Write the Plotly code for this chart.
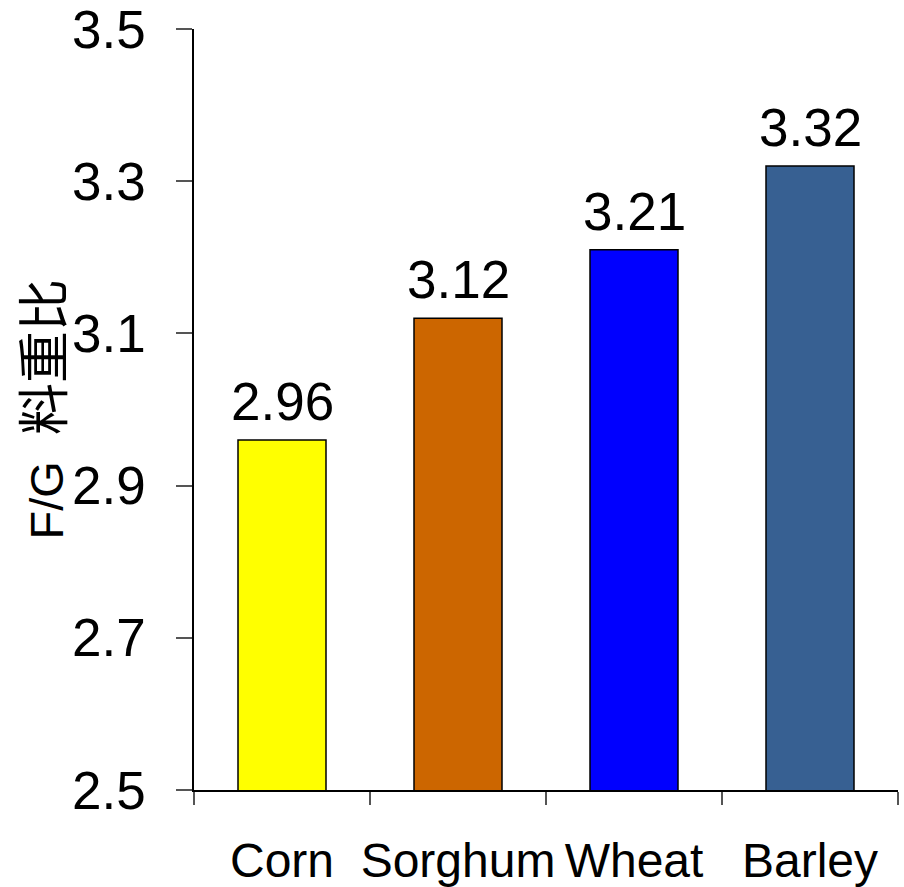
import plotly.graph_objects as go

# Feed conversion ratio by grain source
grains = ["Corn", "Sorghum", "Wheat", "Barley"]
fcr = [2.96, 3.12, 3.21, 3.32]
bar_colors = ["#FFFF00", "#CC6600", "#0000FF", "#376092"]
y_ticks = [2.5, 2.7, 2.9, 3.1, 3.3, 3.5]

FONT = "Liberation Sans, Arial, Noto Sans CJK SC, sans-serif"

fig = go.Figure(
    go.Bar(
        x=grains,
        y=fcr,
        marker=dict(color=bar_colors, line=dict(color="#000000", width=1.5)),
        width=0.5,
        showlegend=False,
    )
)

# Value labels above each bar
for g, v in zip(grains, fcr):
    fig.add_annotation(
        x=g, y=v, text=f"{v:.2f}", showarrow=False,
        yanchor="bottom", yshift=7,
        font=dict(family=FONT, size=53, color="#000000"),
    )

# Rotated y-axis title
fig.add_annotation(
    xref="paper", yref="paper", x=0, y=0.5,
    xanchor="center", yanchor="middle", xshift=-150,
    text="F/G&nbsp;&nbsp;<span style='font-size:52px'>料重比</span>",
    textangle=-90, showarrow=False,
    font=dict(family=FONT, size=47, color="#000000"),
)

fig.update_layout(
    width=904, height=887,
    margin=dict(l=194, r=6, t=29, b=97),
    paper_bgcolor="white", plot_bgcolor="white",
    font=dict(family=FONT, color="#000000"),
)

fig.update_yaxes(
    range=[2.5, 3.5],
    tickvals=y_ticks,
    ticktext=[f"{t:.1f}" for t in y_ticks],
    ticks="outside", ticklen=16, tickwidth=1.5, tickcolor="#555555",
    showline=True, linecolor="#000000", linewidth=1.5,
    showgrid=False, zeroline=False,
    tickfont=dict(family=FONT, size=53),
    ticklabelstandoff=20,
    ticklabeloverflow="allow",
    automargin=False,
)

fig.update_xaxes(
    ticks="outside", ticklen=13, tickwidth=1.5, tickcolor="#555555",
    tickson="boundaries", tickangle=0,
    showline=True, linecolor="#000000", linewidth=1.5,
    showgrid=False,
    tickfont=dict(family=FONT, size=48),
    ticklabelstandoff=28,
    ticklabeloverflow="allow",
    automargin=False,
)

fig.write_html("out.html")
